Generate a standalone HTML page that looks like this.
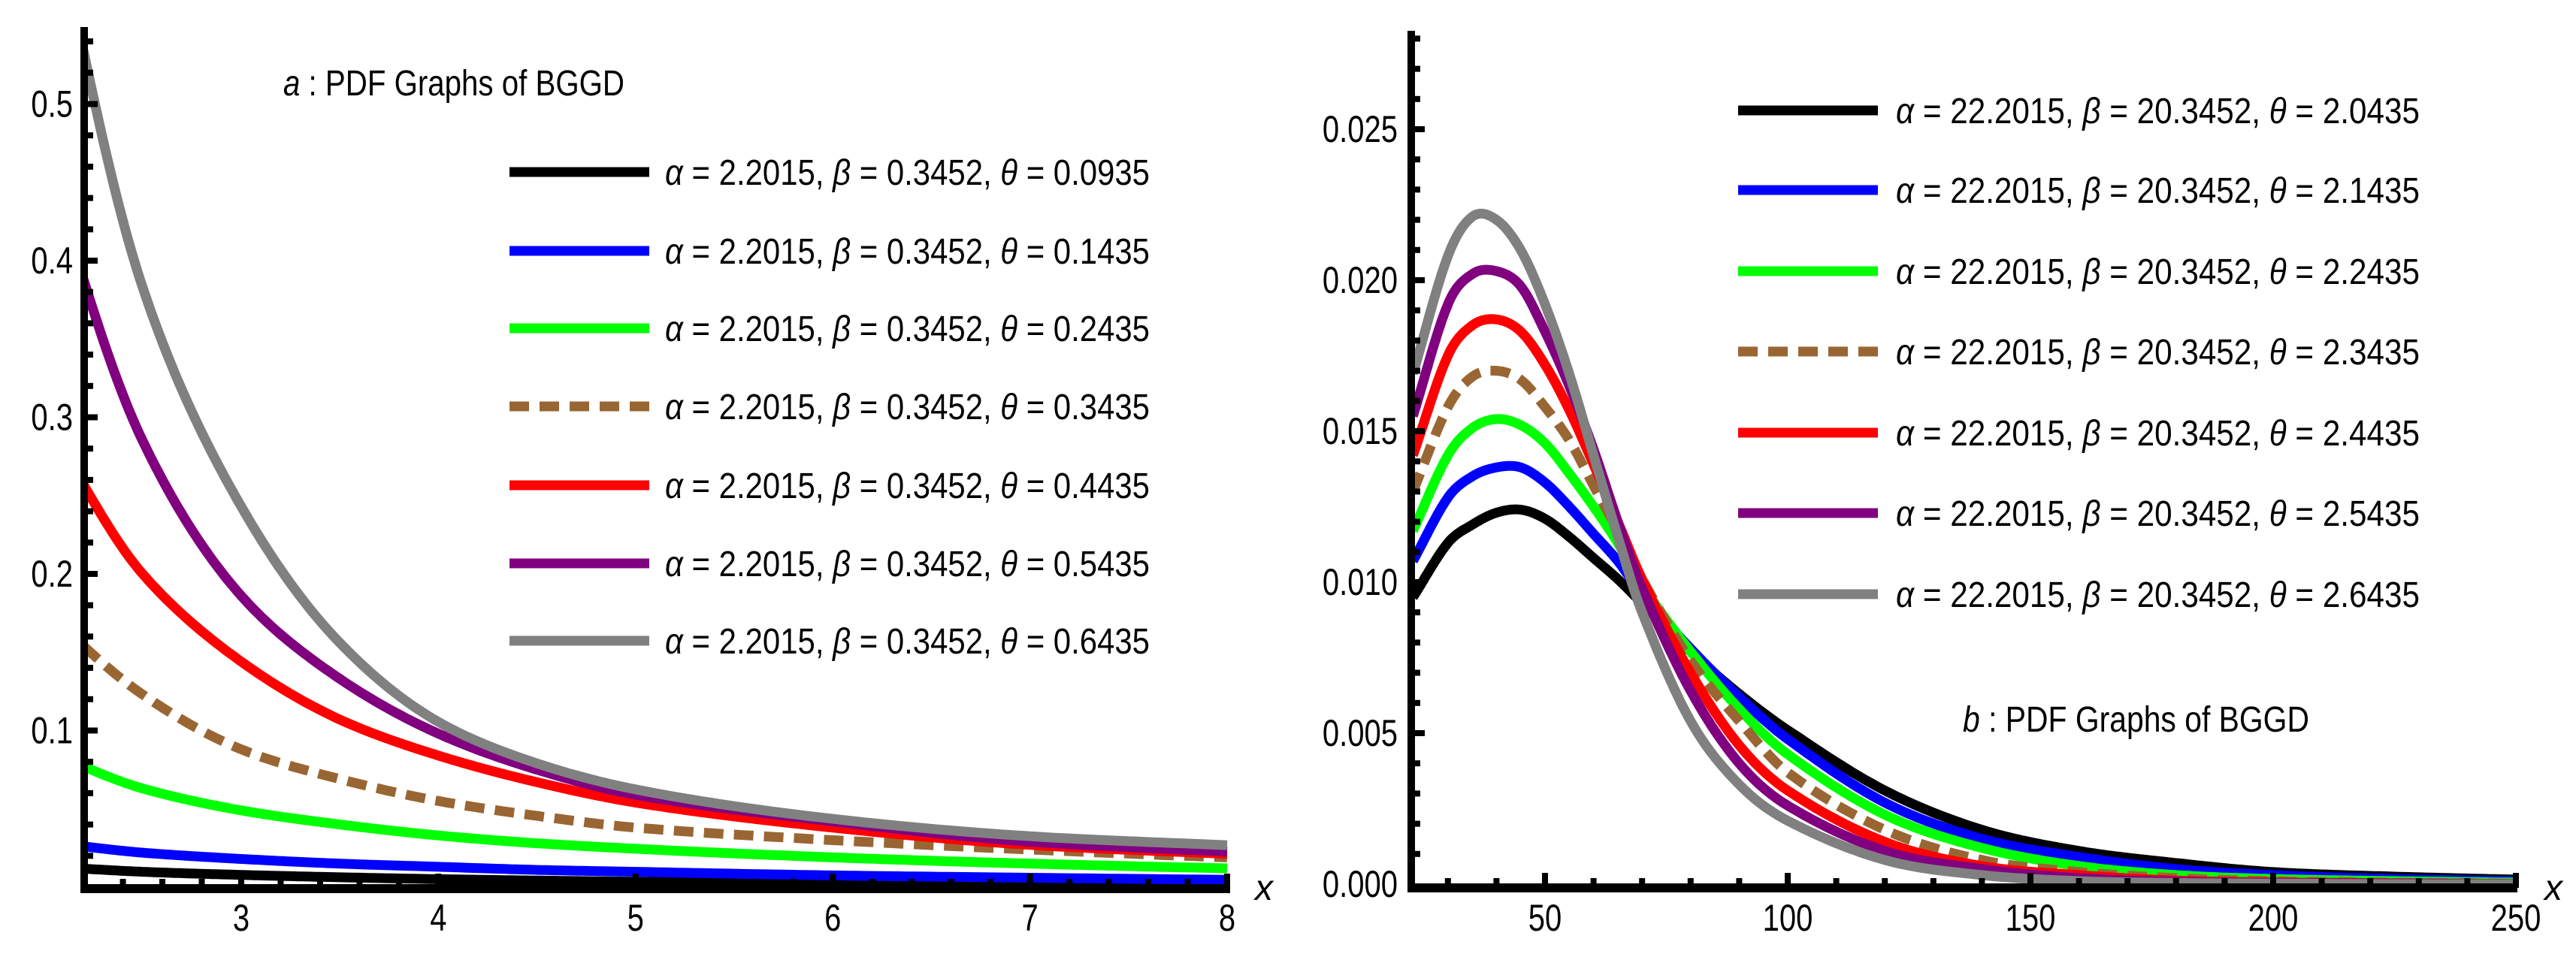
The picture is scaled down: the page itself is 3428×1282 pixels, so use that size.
<!DOCTYPE html>
<html><head><meta charset="utf-8"><style>
html,body{margin:0;padding:0;background:#fff;}
svg{display:block;}
text{font-family:"Liberation Sans",sans-serif;fill:#000;}
</style></head><body>
<svg id="chart" width="3428" height="1282" viewBox="0 0 3428 1282" xmlns="http://www.w3.org/2000/svg">
<g id="left"></g>
<g id="right"></g>
</svg>
<script>
// ---- Panel a data ----
const xsA = [2.2, 2.5, 3, 3.5, 4, 4.5, 5, 6, 7, 8];
const thetaA = ["0.0935","0.1435","0.2435","0.3435","0.4435","0.5435","0.6435"];
const aBlack  = [0.0118,0.0098,0.0078,0.0063,0.0051,0.0042,0.0035,0.0027,0.002,0.0016];
const aBlue   = [0.026,0.022,0.018,0.015,0.013,0.011,0.0098,0.0075,0.006,0.0047];
const aGreen  = [0.077,0.063,0.049,0.040,0.033,0.028,0.0245,0.019,0.015,0.012];
const aBrown  = [0.154,0.123,0.088,0.069,0.055,0.0455,0.038,0.030,0.024,0.019];
const aRed    = [0.257,0.200,0.144,0.107,0.084,0.067,0.054,0.038,0.027,0.0213];
const aPurple = [0.388,0.285,0.186,0.133,0.098,0.075,0.059,0.042,0.029,0.0228];
const aGray   = [0.534,0.383,0.243,0.156,0.1055,0.079,0.0624,0.0436,0.0325,0.0268];
const aYTicks = [0.1,0.2,0.3,0.4,0.5];
const aXTicks = [3,4,5,6,7,8];
// ---- Panel b data ----
const xsB = [22.8,30,35,40,45,50,55,60,65,70,80,90,100,120,140,160,180,200,225,250];
const thetaB = ["2.0435","2.1435","2.2435","2.3435","2.4435","2.5435","2.6435"];
const bBlack  = [0.0095,0.0113,0.0119,0.0123,0.0124,0.0121,0.0115,0.0108,0.0101,0.0093,0.0077,0.0063,0.0051,0.0031,0.0018,0.0011,0.0007,0.0004,0.00025,0.00015];
const bBlue   = [0.0107,0.0128,0.0135,0.0138,0.0138,0.0133,0.0125,0.0116,0.0107,0.0096,0.0078,0.0062,0.0048,0.0027,0.0015,0.0009,0.0005,0.0003,0.00017,0.0001];
const bGreen  = [0.0117,0.0142,0.0151,0.0154,0.0152,0.0146,0.0136,0.0125,0.0113,0.0099,0.0077,0.0058,0.0043,0.0023,0.0012,0.0006,0.0003,0.00017,0.0001,0.00005];
const bBrown  = [0.0130,0.0158,0.0168,0.0170,0.0167,0.0158,0.0147,0.0132,0.0117,0.0101,0.0074,0.0054,0.0037,0.0018,0.0008,0.0004,0.0002,0.0001,0.00005,0.00002];
const bRed    = [0.0142,0.0175,0.0185,0.0187,0.0183,0.0172,0.0157,0.0139,0.0120,0.0101,0.0070,0.0046,0.0031,0.0014,0.0006,0.0003,0.00012,0.00006,0.00003,0.00001];
const bPurple = [0.0155,0.0192,0.0202,0.0203,0.0198,0.0183,0.0165,0.0144,0.0120,0.0098,0.0064,0.0040,0.0026,0.0011,0.0005,0.0002,0.00008,0.00004,0.00002,0.00001];
const bGray   = [0.0169,0.0208,0.0221,0.0220,0.0210,0.0192,0.0169,0.0142,0.0115,0.0090,0.0054,0.0033,0.0021,0.0008,0.0003,0.0001,0.00004,0.00002,0,0];
const bYTicks = ["0.000","0.005","0.010","0.015","0.020","0.025"];
const bXTicks = [50,100,150,200,250];

const colors = ["#000000","#0000ff","#00ff00","#996633","#ff0000","#800080","#808080"];
const names = ["black","blue","green","brown","red","purple","gray"];
const NS = "http://www.w3.org/2000/svg";

function mk(parent, tag, attrs){
  const e = document.createElementNS(NS, tag);
  for (const k in attrs) e.setAttribute(k, attrs[k]);
  parent.appendChild(e);
  return e;
}
// Catmull-Rom in data space (optionally log-y), sampled densely
function pathFor(xs, ys, X, Y, logY){
  const f = logY ? (v=>Math.log(v)) : (v=>v);
  const g = logY ? (v=>Math.exp(v)) : (v=>v);
  const q = ys.map(f);
  const n = xs.length;
  const pts = [];
  for (let i=0;i<n-1;i++){
    const i0=Math.max(0,i-1), i3=Math.min(n-1,i+2);
    const x1=xs[i], x2=xs[i+1];
    const m1=(q[i+1]-q[i0])/(xs[i+1]-xs[i0]);
    const m2=(q[i3]-q[i])/(xs[i3]-xs[i]);
    const h=x2-x1;
    for (let s=0;s<24;s++){
      const t=s/24, t2=t*t, t3=t2*t;
      const v=(2*t3-3*t2+1)*q[i]+(t3-2*t2+t)*h*m1+(-2*t3+3*t2)*q[i+1]+(t3-t2)*h*m2;
      pts.push([X(x1+t*h), Y(g(v))]);
    }
  }
  pts.push([X(xs[n-1]), Y(ys[n-1])]);
  return "M"+pts.map(p=>p[0].toFixed(1)+","+p[1].toFixed(1)).join(" L");
}
function label(parent, x, y, str, anchor, size){
  const t = mk(parent, "text", {transform:"translate("+x+","+y+") scale(0.8,1)", "text-anchor":anchor, "font-size":size});
  t.textContent = str;
  return t;
}
function legendText(parent, x, y, a, b, th, len){
  const t = mk(parent, "text", {x:x, y:y, "font-size":48, textLength:len, lengthAdjust:"spacingAndGlyphs"});
  const parts = [["α",1],[" = "+a+", ",0],["β",1],[" = "+b+", ",0],["θ",1],[" = "+th,0]];
  parts.forEach(([s,it])=>{ const sp = mk(t,"tspan",{}); if(it) sp.setAttribute("font-style","italic"); sp.textContent=s; });
  return t;
}

function drawPanel(g, cfg){
  const {X,Y,xs,series,clipId,clip,logY} = cfg;
  const defs = mk(g,"defs",{});
  const cp = mk(defs,"clipPath",{id:clipId});
  mk(cp,"rect",clip);
  const cg = mk(g,"g",{"clip-path":"url(#"+clipId+")"});
  series.forEach((ys,i)=>{
    const p = mk(cg,"path",{d:pathFor(xs,ys,X,Y,logY), fill:"none", stroke:colors[i], "stroke-width":13, "stroke-linejoin":"round"});
    if (i===3) p.setAttribute("stroke-dasharray","26 14");
    
    
  });
}

// ---- Left panel ----
const gl = document.getElementById("left");
const XA = v => 321 + (v-3)*262.4;
const YA = v => 1181 - v*2085;
drawPanel(gl, {X:XA, Y:YA, xs:xsA, series:[aBlack,aBlue,aGreen,aBrown,aRed,aPurple,aGray], clipId:"cl", clip:{x:112,y:0,width:1525,height:1183}, logY:true});
const axA = mk(gl,"g",{});


mk(axA,"line",{x1:112,y1:36,x2:112,y2:1189,stroke:"#000","stroke-width":10});
mk(axA,"line",{x1:107,y1:1183,x2:1637,y2:1183,stroke:"#000","stroke-width":12});
for (let k=1;k<=27;k++){ const v=k*0.02; const y=YA(v); if(y<38) break;
  const major = Math.abs(v*10-Math.round(v*10))<1e-6;
  mk(axA,"line",{x1:112,y1:y,x2:112+(major?18:12),y2:y,stroke:"#000","stroke-width":8}); }
for (let k=0;k<=29;k++){ const v=2.4+k*0.2; if(v>8.01) break; const x=XA(v);
  const major = Math.abs(v-Math.round(v))<1e-6;
  mk(axA,"line",{x1:x,y1:1183,x2:x,y2:1183-(major?20:13),stroke:"#000","stroke-width":8}); }
aYTicks.forEach(v=>{ const t=label(axA,97,YA(v)+17,String(v),"end",50);   });
aXTicks.forEach(v=>{ const t=label(axA,XA(v),1239,String(v),"middle",50);   });
const xa = mk(axA,"text",{x:1670,y:1198,"font-size":48,"font-style":"italic"}); xa.textContent="x";
 
const ta = mk(gl,"text",{x:377,y:127,"font-size":48,textLength:454,lengthAdjust:"spacingAndGlyphs"});
 
{const s1=mk(ta,"tspan",{"font-style":"italic"}); s1.textContent="a"; const s2=mk(ta,"tspan",{}); s2.textContent=" : PDF Graphs of BGGD";}
const legA = mk(gl,"g",{});
 
[229,334,437,541,646,750,853].forEach((y,i)=>{
  const e = mk(legA,"g",{});
   
  const l = mk(e,"line",{x1:678,y1:y,x2:864,y2:y,stroke:colors[i],"stroke-width":13});
  if(i===3) l.setAttribute("stroke-dasharray","26 14");
  legendText(e,885,y+17,"2.2015","0.3452",thetaA[i],645);
});

// ---- Right panel ----
const gr = document.getElementById("right");
const XB = v => 2056 + (v-50)*6.46;
const YB = v => 1177 - v*40200;
drawPanel(gr, {X:XB, Y:YB, xs:xsB, series:[bBlack,bBlue,bGreen,bBrown,bRed,bPurple,bGray], clipId:"cr", clip:{x:1878,y:0,width:1472,height:1182}, logY:false});
const axB = mk(gr,"g",{});


mk(axB,"line",{x1:1878,y1:41,x2:1878,y2:1188,stroke:"#000","stroke-width":10});
mk(axB,"line",{x1:1873,y1:1182,x2:3350,y2:1182,stroke:"#000","stroke-width":12});
for (let k=1;k<=28;k++){ const y=YB(k*0.001); if(y<43) break;
  const major = k%5===0;
  mk(axB,"line",{x1:1878,y1:y,x2:1878+(major?18:12),y2:y,stroke:"#000","stroke-width":8}); }
for (let v=30; v<=250; v+=10){ const x=XB(v); const major=v%50===0;
  mk(axB,"line",{x1:x,y1:1182,x2:x,y2:1182-(major?20:13),stroke:"#000","stroke-width":8}); }
bYTicks.forEach(s=>{ const t=label(axB,1860,YB(parseFloat(s))+17,s,"end",50);   });
bXTicks.forEach(v=>{ const t=label(axB,XB(v),1239,String(v),"middle",50);   });
const xb = mk(axB,"text",{x:3386,y:1198,"font-size":48,"font-style":"italic"}); xb.textContent="x";
 
const tb = mk(gr,"text",{x:2612,y:974,"font-size":48,textLength:461,lengthAdjust:"spacingAndGlyphs"});
 
{const s1=mk(tb,"tspan",{"font-style":"italic"}); s1.textContent="b"; const s2=mk(tb,"tspan",{}); s2.textContent=" : PDF Graphs of BGGD";}
const legB = mk(gr,"g",{});
 
[147,253,361,468,576,683,791].forEach((y,i)=>{
  const e = mk(legB,"g",{});
   
  const l = mk(e,"line",{x1:2313,y1:y,x2:2499,y2:y,stroke:colors[i],"stroke-width":13});
  if(i===3) l.setAttribute("stroke-dasharray","26 14");
  legendText(e,2523,y+17,"22.2015","20.3452",thetaB[i],697);
});
</script>
</body></html>
